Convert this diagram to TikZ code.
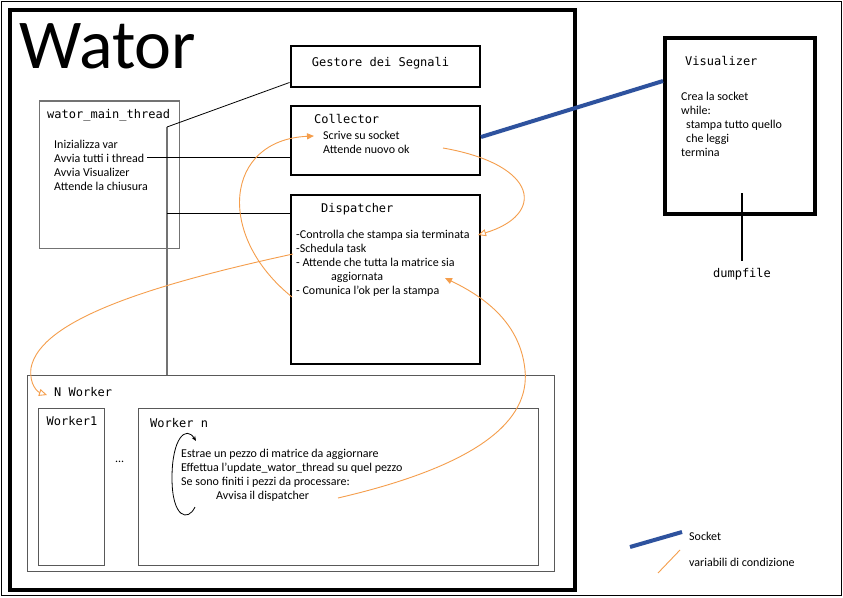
\documentclass[tikz,border=0pt]{standalone}
\usepackage{fontspec}
\setmainfont{Carlito}
\newfontfamily\monofont{DejaVu Sans Mono}
\usetikzlibrary{positioning, arrows.meta, calc}
\definecolor{condorange}{RGB}{245,158,76}
\definecolor{sockblue}{RGB}{46,82,158}

\begin{document}
\begin{tikzpicture}[x=1pt, y=-1pt, font=\fontsize{12}{14}\selectfont]

        % Styles
        \tikzstyle{thickbox} = [draw=black, line width=4pt, inner sep=0pt, anchor=north west]
        \tikzstyle{box} = [draw=black, line width=2pt, inner sep=0pt, anchor=north west]
        \tikzstyle{graybox} = [draw=black!55, line width=1.5pt, inner sep=0pt, anchor=north west]
        \tikzstyle{thinbox} = [draw=black!65, line width=1pt, inner sep=0pt, anchor=north west]
        \tikzstyle{title} = [font=\monofont\fontsize{12}{14}\selectfont, anchor=base west, inner sep=0pt]
        \tikzstyle{body} = [align=left, anchor=base west, inner sep=0pt]
        \tikzstyle{wire} = [draw=black, line width=0.8pt]
        \tikzstyle{socket} = [draw=sockblue, line width=4pt]
        \tikzstyle{cond} = [draw=condorange, line width=0.9pt]

        \useasboundingbox[fill=white] (0,0) rectangle (843,597);
        \draw[line width=1pt] (1,1) rectangle (841,595);

        % --- WATOR PROCESS ---
        \node[thickbox, minimum width=565, minimum height=580] (wator) at (8,8) {};
        \node[anchor=base west, inner sep=0pt, font=\fontsize{70}{70}\selectfont] (watorlbl) at (19,68) {Wator};

        % Main thread
        \node[graybox, minimum width=140, minimum height=147.5] (mainthread) at (38.7,100) {};
        \node[title] (mainlbl) at (47,118.5) {wator\_main\_thread};
        \node[body] (init) at (54,148) {Inizializza var};
        \node[body] (avvia) at (54,162) {Avvia tutti i thread};
        \node[body] (avviavis) at (54,176) {Avvia Visualizer};
        \node[body] (chiusura) at (54,190) {Attende la chiusura};

        % Signal handler
        \node[box, minimum width=189.5, minimum height=40.5] (gestore) at (289.5,45) {};
        \node[title, anchor=base] (gestorelbl) at (380.5,66) {Gestore dei Segnali};

        % Collector (multi-line texts sit on their last baseline)
        \node[box, minimum width=189.5, minimum height=69] (collector) at (289.5,104.5) {};
        \node[title] (collectorlbl) at (314,123) {Collector};
        \node[body] (collectorbody) at (323,153) {Scrive su socket\\Attende nuovo ok};

        % Dispatcher
        \node[box, minimum width=189.5, minimum height=169] (dispatcher) at (289.5,193.5) {};
        \node[title] (dispatcherlbl) at (321,212) {Dispatcher};
        \node[body] (dispatcherbody) at (296,294) {-Controlla che stampa sia terminata\\-Schedula task\\- Attende che tutta la matrice sia\\\hspace*{35pt}aggiornata\\- Comunica l'ok per la stampa};

        % Workers
        \node[thinbox, minimum width=527, minimum height=196] (nworker) at (27,375) {};
        \node[title] (nworkerlbl) at (54,396) {N Worker};
        \node[thinbox, minimum width=66, minimum height=157] (worker1) at (38,408) {};
        \node[title] (worker1lbl) at (46.5,425) {Worker1};
        \node[body] (dots) at (115,462) {...};
        \node[thinbox, minimum width=400, minimum height=157] (workern) at (138,408) {};
        \node[title] (workernlbl) at (150,427) {Worker n};
        \node[body] (workernbody) at (181,499) {Estrae un pezzo di matrice da aggiornare\\Effettua l'update\_wator\_thread su quel pezzo\\Se sono finiti i pezzi da processare:\\\hspace*{35pt}Avvisa il dispatcher};

        % --- VISUALIZER ---
        \node[thickbox, minimum width=150, minimum height=176] (visualizer) at (663,36) {};
        \node[title] (visualizerlbl) at (685,65) {Visualizer};
        \node[body] (visualizerbody) at (681,156) {Crea la socket\\while:\\\hspace*{5pt}stampa tutto quello\\\hspace*{5pt}che leggi\\termina};
        \node[title, anchor=base] (dump) at (742,277) {dumpfile};
        \coordinate (vizout) at (742,193);

        % --- CONNECTIONS ---
        \coordinate (bustop) at (167,127);
        \coordinate (busdisp) at (167,213);
        \draw[draw=black!55, line width=1.5pt] (bustop) -- (bustop |- nworker.north);
        \draw[wire] (bustop) -- ([yshift=5pt]gestore.south west);
        \draw[wire] ([xshift=3pt]avvia.east) -- (avvia.east -| collector.west);
        \draw[wire] (busdisp) -- (busdisp -| dispatcher.west);
        \draw[wire, line width=1.5pt] (vizout) -- ([yshift=7pt]dump.north);
        \draw[socket] ([yshift=3pt]collector.east) -- ([yshift=-45pt]visualizer.north west);

        % Condition variables
        \draw[cond, -{Triangle[open, length=8pt, width=7pt]}] (443,148) .. controls (540,165) and (545,215) .. (478,235);
        \draw[cond, -{Triangle[length=7pt, width=6pt]}] (292,297) .. controls (215,235) and (225,140) .. (314,136);
        \draw[cond, -{Triangle[open, length=8pt, width=7pt]}] (293,254) .. controls (150,285) and (40,320) .. (31,368) .. controls (29,385) and (38,392) .. (47,395);
        \draw[cond, -{Triangle[length=7pt, width=6pt]}] (338,498) .. controls (480,465) and (530,420) .. (525,370) .. controls (520,320) and (480,295) .. (445,278);

        % Worker loop
        \draw[line width=0.8pt, -{Stealth[length=5pt, width=4pt]}] (195,507) .. controls (188,522) and (172,518) .. (172,478) .. controls (172,438) and (186,425) .. (196,441);

        % --- LEGEND ---
        \node[body] (socketlbl) at (689,540) {Socket};
        \node[body] (condlbl) at (689,566) {variabili di condizione};
        \draw[socket] (630,547) -- (682,532);
        \draw[cond] (658,573) -- (680,550);

    \end{tikzpicture}
\end{document}
